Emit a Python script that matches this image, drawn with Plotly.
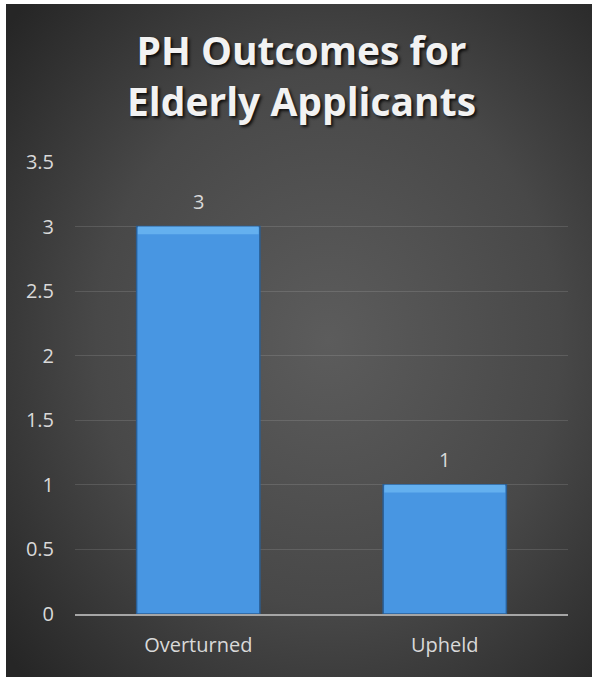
import base64
import plotly.graph_objects as go

categories = ["Overturned", "Upheld"]
values = [3, 1]
title_lines = ["PH Outcomes for", "Elderly Applicants"]
y_ticks = [0, 0.5, 1, 1.5, 2, 2.5, 3, 3.5]
y_tick_labels = ["0", "0.5", "1", "1.5", "2", "2.5", "3", "3.5"]

W, H = 594, 677
ML, MR, MT, MB = 75, 26, 162, 63
PW, PH = W - ML - MR, H - MT - MB

svg = (
    '<svg xmlns="http://www.w3.org/2000/svg" width="586" height="673" viewBox="0 0 586 673" preserveAspectRatio="none">'
    '<defs><radialGradient id="g" cx="0.55" cy="0.5" r="0.72">'
    '<stop offset="0" stop-color="#5c5c5c"/><stop offset="0.55" stop-color="#484848"/>'
    '<stop offset="1" stop-color="#262626"/></radialGradient></defs>'
    '<rect width="586" height="673" fill="url(#g)"/></svg>'
)
bg_src = "data:image/svg+xml;base64," + base64.b64encode(svg.encode()).decode()

def px_x(p):
    return (p - ML) / PW

def px_y(p):
    return (H - MB - p) / PH

bevel = 0.06
fig = go.Figure()
fig.add_trace(go.Bar(
    x=categories, y=values,
    marker=dict(color="#4896e2", line=dict(color="#2a5f96", width=1.5)),
    width=0.5, hoverinfo="x+y",
))
fig.add_trace(go.Bar(
    x=categories, y=[bevel] * len(values), base=[v - bevel for v in values],
    marker=dict(color="#64b0ef", line=dict(width=0)),
    width=0.49, hoverinfo="skip",
))

for c, v in zip(categories, values):
    fig.add_annotation(x=c, y=v, text=str(v), showarrow=False, yshift=25,
                       yanchor="middle",
                       font=dict(family="Open Sans", size=20, color="#d9d9d9"))

fig.add_annotation(
    text="<br>".join(title_lines), xref="paper", yref="paper",
    x=px_x(301), y=px_y(75), xanchor="center", yanchor="middle",
    showarrow=False, align="center",
    font=dict(family="Open Sans", size=39, color="#f2f2f2", weight="bold",
              shadow="2px 2px 3px rgba(0,0,0,0.8)"),
)

fig.update_layout(
    width=W, height=H,
    margin=dict(l=ML, r=MR, t=MT, b=MB),
    paper_bgcolor="white", plot_bgcolor="rgba(0,0,0,0)",
    showlegend=False, barmode="overlay",
    images=[dict(source=bg_src, xref="paper", yref="paper",
                 x=px_x(6), y=px_y(4), sizex=px_x(592) - px_x(6),
                 sizey=px_y(4) - px_y(677), sizing="stretch",
                 xanchor="left", yanchor="top", layer="below")],
    xaxis=dict(showgrid=False, showline=True, linecolor="#a6a6a6", linewidth=2,
               ticks="", ticklabelstandoff=12,
               tickfont=dict(family="Open Sans", size=20, color="#d9d9d9")),
    yaxis=dict(range=[0, 3.5], tickvals=y_ticks, ticktext=y_tick_labels,
               showgrid=True, gridcolor="rgba(255,255,255,0.12)", gridwidth=1,
               zeroline=False, showline=False, ticks="", ticklabelstandoff=20,
               tickfont=dict(family="Open Sans", size=20, color="#d9d9d9")),
)

fig.write_html("out.html", config={"displayModeBar": False},
               post_script="document.body.style.margin='0';")
